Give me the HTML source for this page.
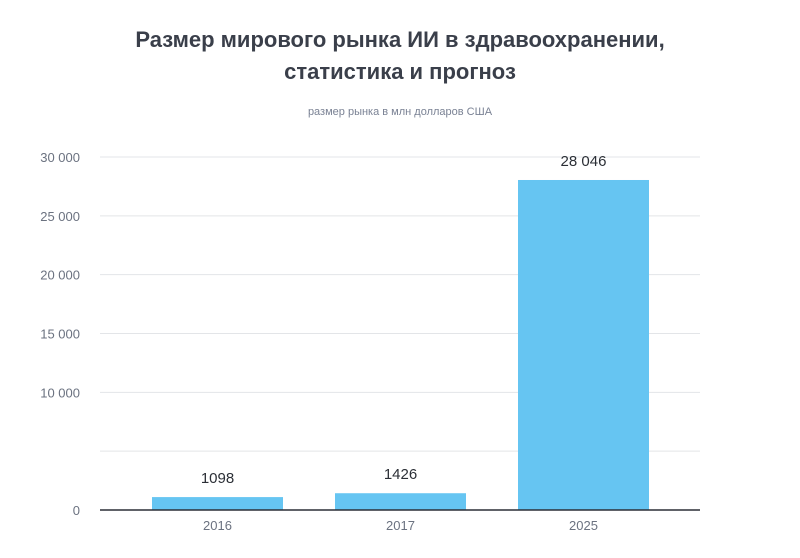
<!DOCTYPE html>
<html><head><meta charset="utf-8"><style>
body{margin:0;background:#fff;font-family:"Liberation Sans","DejaVu Sans",sans-serif;}
</style></head><body>
<svg width="800" height="553" xmlns="http://www.w3.org/2000/svg">
<text x="400" y="47" text-anchor="middle" font-size="22" font-weight="bold" fill="#3a3f4a">Размер мирового рынка ИИ в здравоохранении,</text>
<text x="400" y="79" text-anchor="middle" font-size="22" font-weight="bold" fill="#3a3f4a">статистика и прогноз</text>
<text x="400" y="115" text-anchor="middle" font-size="11" fill="#7a8294">размер рынка в млн долларов США</text>
<g id="grid"></g><g id="bars"></g><g id="axis"></g>
</svg>
<script>
const categories=["2016","2017","2025"];
const values=[1098,1426,28046];
const valueLabels=["1098","1426","28 046"];
const ticks=[0,5000,10000,15000,20000,25000,30000];
const tickLabels=["0","","10 000","15 000","20 000","25 000","30 000"];
const NS="http://www.w3.org/2000/svg";
const y0=510,yTop=157,x0=100,x1=700;
const y=v=>y0-(v/30000)*(y0-yTop);
const band=183,bw=131,xs=i=>152+i*band;
function mk(t,a,p){const e=document.createElementNS(NS,t);for(const k in a)e.setAttribute(k,a[k]);p.appendChild(e);return e;}
const g=document.getElementById("grid"),b=document.getElementById("bars"),ax=document.getElementById("axis");
ticks.forEach((t,i)=>{
 if(t>0){const l=mk("line",{x1:x0,x2:x1,y1:y(t),y2:y(t),stroke:"#e3e5e8","stroke-width":1},g);
 
 }
 const tx=mk("text",{x:80,y:y(t)+5,"text-anchor":"end","font-size":13,fill:"#6b7280"},g);
 tx.textContent=tickLabels[i];
 
 
});
categories.forEach((c,i)=>{
 const r=mk("rect",{x:xs(i),y:y(values[i]),width:bw,height:y0-y(values[i]),fill:"#66c5f2"},b);
 
 
 const v=mk("text",{x:xs(i)+bw/2,y:y(values[i])-14,"text-anchor":"middle","font-size":15,fill:"#2b2f36"},b);
 v.textContent=valueLabels[i];
 
 
 const cl=mk("text",{x:xs(i)+bw/2,y:530,"text-anchor":"middle","font-size":13,fill:"#6b7280"},ax);
 cl.textContent=c;
 
 
});
const a=mk("line",{x1:x0,x2:x1,y1:y0,y2:y0,stroke:"#2b2f36","stroke-width":1.5},ax);


</script>
</body></html>
